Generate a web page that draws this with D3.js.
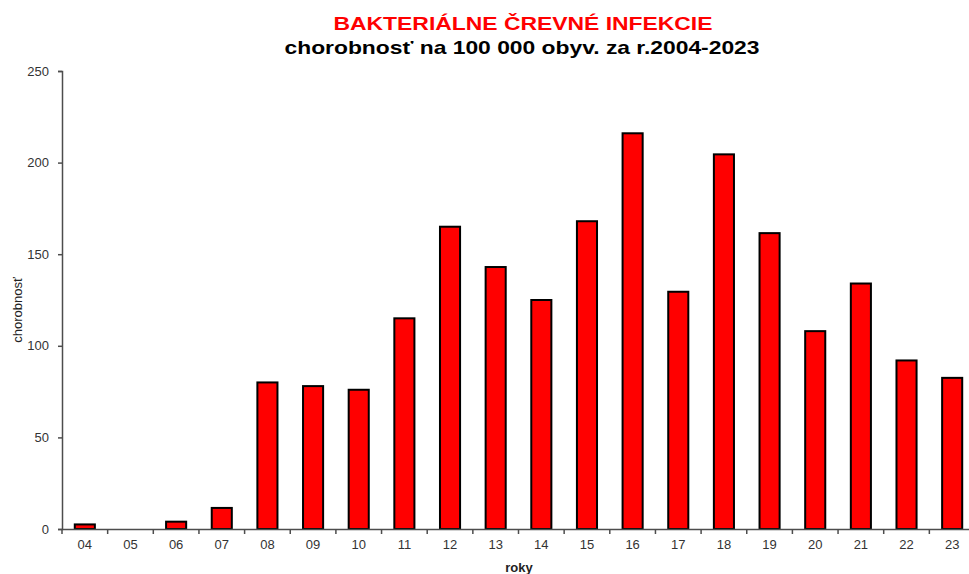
<!DOCTYPE html>
<html>
<head>
<meta charset="utf-8">
<script src="https://cdn.jsdelivr.net/npm/d3@7"></script>
<style>
  body { margin: 0; background: #fff; }
  svg { display: block; font-family: "Liberation Sans", Arial, sans-serif; }
</style>
</head>
<body>
<div id="chart"></div>
<script>
// Data
const years = ["04", "05", "06", "07", "08", "09", "10", "11", "12", "13",
               "14", "15", "16", "17", "18", "19", "20", "21", "22", "23"];
const rates = [2.5, 0, 4, 11.5, 80, 78, 76, 115, 165, 143,
               125, 168, 216, 129.5, 204.5, 161.5, 108, 134, 92, 82.5];
const yTicks = [0, 50, 100, 150, 200, 250];

const titleLine1 = "BAKTERIÁLNE ČREVNÉ INFEKCIE";
const titleLine2 = "chorobnosť na 100 000 obyv. za r.2004-2023";

const W = 969, H = 574;
const plot = { left: 62, right: 975, top: 71, bottom: 529 };

const svg = d3.select("#chart")
    .append("svg")
    .attr("width", W)
    .attr("height", H);

// Scales
const x = d3.scaleBand()
    .domain(years)
    .range([plot.left, plot.right])
    .padding(0);

const y = d3.scaleLinear()
    .domain([0, 250])
    .range([plot.bottom, plot.top]);

const barW = x.bandwidth() * 0.44;

// Bars
svg.selectAll(".bar")
    .data(years.map((yr, i) => ({ yr, v: rates[i] })).filter(d => d.v > 0))
    .enter()
    .append("rect")
    .attr("class", "bar")
    .attr("x", d => x(d.yr) + (x.bandwidth() - barW) / 2)
    .attr("y", d => y(d.v))
    .attr("width", barW)
    .attr("height", d => y(0) - y(d.v))
    .attr("fill", "#ff0000")
    .attr("stroke", "#000")
    .attr("stroke-width", 2);

// Y axis
const yAxis = svg.append("g")
    .attr("transform", `translate(${plot.left},0)`)
    .call(d3.axisLeft(y).tickValues(yTicks).tickSize(4).tickPadding(9));

// X axis: ticks sit on band boundaries
const xAxis = svg.append("g")
    .attr("transform", `translate(0,${plot.bottom})`)
    .call(d3.axisBottom(x).tickSize(0).tickPadding(11));

xAxis.selectAll(".bnd")
    .data(years)
    .enter()
    .append("line")
    .attr("class", "bnd")
    .attr("x1", d => x(d))
    .attr("x2", d => x(d))
    .attr("y1", 0)
    .attr("y2", 5);

[yAxis, xAxis].forEach(g => {
    g.select(".domain").attr("stroke", "#4d4d4d").attr("stroke-width", 1.5);
    g.selectAll("line").attr("stroke", "#4d4d4d").attr("stroke-width", 1.5);
    g.selectAll("text")
        .attr("fill", "#333")
        .style("font-size", "13px")
        .style("font-family", "'Liberation Sans', Arial, sans-serif");
});

// Titles
svg.append("text")
    .attr("x", 523)
    .attr("y", 30)
    .attr("text-anchor", "middle")
    .attr("textLength", 379)
    .attr("lengthAdjust", "spacingAndGlyphs")
    .style("font-size", "19px")
    .style("font-weight", "bold")
    .attr("fill", "#ff0000")
    .text(titleLine1);

svg.append("text")
    .attr("x", 522)
    .attr("y", 54)
    .attr("text-anchor", "middle")
    .attr("textLength", 475)
    .attr("lengthAdjust", "spacingAndGlyphs")
    .style("font-size", "19px")
    .style("font-weight", "bold")
    .attr("fill", "#000")
    .text(titleLine2);

// Axis labels
svg.append("text")
    .attr("x", 519)
    .attr("y", 572)
    .attr("text-anchor", "middle")
    .style("font-size", "13px")
    .style("font-weight", "bold")
    .attr("fill", "#222")
    .text("roky");

svg.append("text")
    .attr("transform", "translate(22,310) rotate(-90)")
    .attr("text-anchor", "middle")
    .style("font-size", "13px")
    .attr("fill", "#222")
    .text("chorobnosť");
</script>
</body>
</html>
